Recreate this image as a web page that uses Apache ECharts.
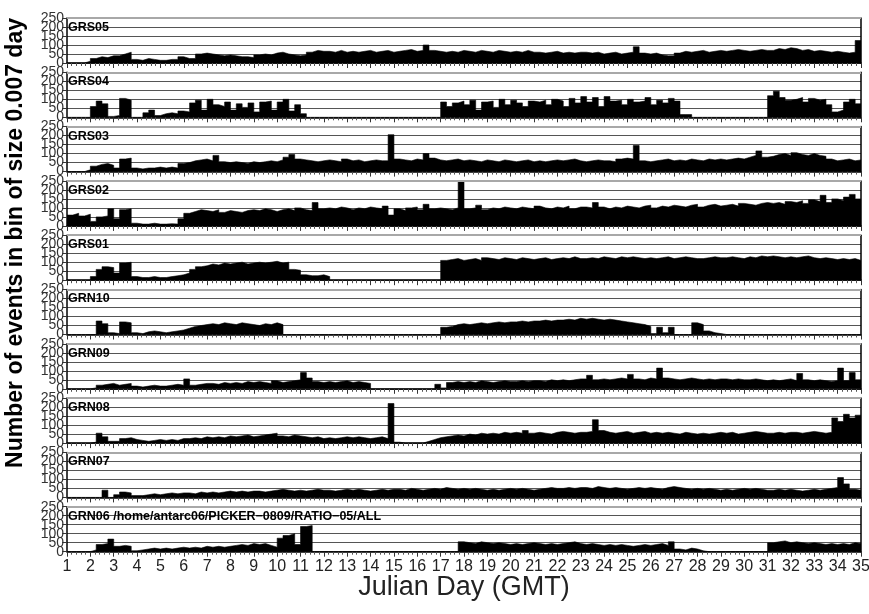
<!DOCTYPE html>
<html>
<head>
<meta charset="utf-8">
<script src="https://cdn.jsdelivr.net/npm/echarts@6/dist/echarts.min.js"></script>
<style>
html,body{margin:0;padding:0;background:#fff;}
#chart{width:869px;height:614px;}
</style>
</head>
<body>
<div id="chart"></div>
<script>
// Histogram values, one value per 0.25-day bin, starting at Julian day 1.00 (4 bins per row = 1 day)
const DAY_START = 1;
const BIN = 0.25;
const DAY_END = 35;
const Y_MAX = 250;
const panelNames = ['GRS05','GRS04','GRS03','GRS02','GRS01','GRN10','GRN09','GRN08','GRN07',
  'GRN06 /home/antarc06/PICKER\u22120809/RATIO\u221205/ALL'];

const GRS05 = [
 0,0,0,10,   25,35,30,40,   40,50,60,20,   15,25,20,15,   15,20,20,35,
 25,25,50,55, 50,45,40,45,  40,35,35,30,   45,50,45,55,   60,50,45,40,
 45,60,70,65, 65,60,70,60,  65,60,65,70,   60,65,70,60,   65,70,75,65,
 70,100,70,65, 60,65,60,70, 65,60,70,65,   60,70,65,60,   65,60,70,60,
 60,55,60,65, 55,60,55,60,  60,55,60,50,   55,60,50,55,   60,90,55,50,
 55,45,40,40, 55,65,60,65,  70,60,65,70,   65,70,75,70,   65,70,75,70,
 70,80,75,85, 80,70,75,65,  70,65,60,65,   60,55,60,125
];
const GRS04 = [
 0,0,0,0,     60,90,75,5,   10,105,95,0,   0,25,40,10,    20,25,20,35,
 30,80,95,40, 100,70,60,85, 40,75,55,80,   30,85,90,40,   85,100,35,70,
 20,0,0,0,    0,0,0,0,      0,0,0,0,       0,0,0,0,       0,0,0,0,
 0,0,0,0,     85,60,80,90,  70,95,40,85,   90,55,100,70,  95,80,60,90,
 85,95,70,100, 90,60,105,80, 115,85,110,60, 115,90,95,70, 100,85,90,110,
 70,95,80,105, 90,15,15,0,  0,0,0,0,       0,0,0,0,       0,0,0,0,
 120,145,110,95, 100,110,85,105, 95,100,70,30, 40,85,100,75
];
const GRS03 = [
 0,0,0,10,    30,40,45,35,  20,70,75,20,   15,20,20,25,   20,25,20,45,
 50,60,65,70, 60,90,55,50,  55,50,45,55,   50,55,60,55,   65,80,95,70,
 65,60,55,60, 65,60,55,70,  60,65,55,60,   65,60,60,205,  70,65,60,70,
 65,100,75,65, 60,65,70,60, 65,60,55,65,   60,55,65,60,   55,60,65,55,
 60,55,60,65, 60,65,70,60,  55,60,65,60,   60,55,70,75,   70,145,60,55,
 60,65,70,60, 65,60,70,65,  60,70,65,70,   65,70,75,70,   80,90,115,80,
 85,95,100,90, 105,95,90,100, 90,85,70,60, 65,70,60,65
];
const GRS02 = [
 60,70,55,65, 25,50,55,95,  40,90,95,15,   10,10,15,10,   10,12,10,40,
 70,80,90,85, 80,90,75,85,  80,75,85,90,   85,95,90,80,   90,95,85,100,
 90,85,130,95, 100,95,105,100, 90,100,95,105, 100,95,110,60, 95,85,100,105,
 90,120,95,100, 95,90,100,250, 95,100,115,90, 100,95,105,100, 95,105,100,95,
 110,100,95,105, 100,110,95,105, 105,100,130,105, 95,105,100,110, 105,100,110,115,
 100,110,105,115, 110,105,115,120, 105,115,120,110, 115,120,110,125, 120,115,125,130,
 125,130,120,135, 130,140,125,145, 135,170,130,150, 140,160,175,150
];
const GRS01 = [
 0,0,0,0,     20,60,75,70,  40,95,100,20,  15,15,20,15,   15,20,25,30,
 40,60,75,80, 90,85,95,90,  95,100,90,95,  100,95,100,105, 95,100,60,55,
 30,25,25,30, 20,0,0,0,     0,0,0,0,       0,0,0,0,       0,0,0,0,
 0,0,0,0,     110,115,120,110, 115,120,110,125, 120,115,125,120, 115,125,120,115,
 120,125,115,120, 125,120,130,120, 120,125,120,130, 125,120,130,125, 130,125,120,125,
 120,125,130,120, 125,130,125,120, 120,125,130,125, 125,130,125,120, 130,125,135,130,
 135,130,125,130, 125,130,135,125, 120,125,120,115, 120,115,120,110
];
const GRN10 = [
 0,0,0,0,     0,75,60,10,   5,70,65,10,    5,15,20,15,    10,15,20,25,
 35,45,50,55, 60,55,65,60,  55,65,60,55,   50,60,55,65,   55,0,0,0,
 0,0,0,0,     0,0,0,0,      0,0,0,0,       0,0,0,0,       0,0,0,0,
 0,0,0,0,     40,45,55,60,  55,60,65,60,   65,70,65,70,   70,75,70,75,
 75,80,75,80, 80,85,80,90,  85,90,85,80,   85,80,75,70,   65,60,55,45,
 5,40,10,40,  0,0,0,65,     55,20,10,5,    0,0,0,0,       0,0,0,0,
 0,0,0,0,     0,0,0,0,      0,0,0,0,       0,0,0,0
];
const GRN09 = [
 0,0,0,0,     5,20,25,30,   20,25,30,15,   10,15,20,15,   15,20,25,20,
 55,20,25,30, 30,25,35,30,  35,30,40,35,   40,35,30,45,   35,40,45,50,
 90,60,40,35, 40,35,40,45,  35,40,35,30,   0,0,0,0,       0,0,0,0,
 0,0,0,25,    5,35,40,35,   40,35,45,40,   35,40,45,40,   40,45,40,45,
 45,40,50,45, 50,45,50,55,  55,75,50,55,   50,55,60,55,   80,55,50,60,
 55,115,60,55, 50,55,60,55, 50,55,50,55,   55,50,55,50,   50,55,50,45,
 50,45,50,55, 45,85,50,45,  50,45,40,45,   115,45,90,50
];
const GRN08 = [
 0,0,0,0,     5,55,35,10,   10,25,30,20,   15,10,15,20,   15,20,15,25,
 25,30,25,35, 30,35,30,40,  35,40,45,35,   40,45,50,55,   40,35,45,40,
 35,30,35,25, 30,25,30,35,  30,35,30,25,   30,35,25,220,  5,0,0,0,
 0,10,20,30,  35,40,45,40,  50,45,55,50,   55,50,60,55,   60,55,70,55,
 60,55,50,60, 65,60,55,60,  60,65,130,70,  60,55,60,65,   55,60,65,55,
 60,55,60,55, 50,60,55,50,  55,50,55,60,   55,60,50,55,   60,65,60,55,
 55,60,55,60, 60,55,60,65,  60,55,60,140,  120,160,140,155
];
const GRN07 = [
 0,0,0,0,     0,0,40,0,     15,30,25,10,   10,15,20,15,   20,25,20,25,
 25,20,30,25, 30,25,30,35,  30,35,30,35,   35,30,35,40,   45,40,35,40,
 35,40,45,40, 40,35,40,45,  40,45,40,35,   40,45,40,45,   45,40,50,45,
 40,45,50,45, 55,50,45,50,  45,50,45,40,   45,40,45,50,   45,50,45,40,
 45,50,55,50, 50,55,50,55,  55,50,60,55,   50,55,50,45,   50,55,50,55,
 50,45,55,60, 55,50,45,50,  45,50,45,40,   45,40,45,50,   45,50,45,40,
 40,45,40,45, 40,35,40,45,  40,45,50,55,   110,75,45,40
];
const GRN06 = [
 0,0,0,0,     10,40,45,70,  30,35,30,5,    10,15,20,15,   20,15,20,25,
 20,25,20,30, 25,30,25,30,  35,40,35,45,   40,45,35,25,   75,90,100,40,
 140,145,0,0, 0,0,0,0,      0,0,0,0,       0,0,0,0,       0,0,0,0,
 0,0,0,0,     0,0,0,55,     50,45,55,50,   45,50,45,40,   45,40,45,50,
 45,40,45,40, 45,50,55,45,  40,45,40,35,   40,35,40,35,   30,35,40,35,
 40,45,35,55, 15,10,20,15,  5,0,0,0,       0,0,0,0,       0,0,0,0,
 50,55,60,50, 55,50,45,50,  45,40,45,40,   45,40,50,45
];
const panelValues = [GRS05, GRS04, GRS03, GRS02, GRS01, GRN10, GRN09, GRN08, GRN07, GRN06];

function toPairs(arr) {
  const pts = arr.map((v, i) => [DAY_START + i * BIN, v]);
  pts.push([DAY_START + arr.length * BIN, arr[arr.length - 1]]);
  return pts;
}

const N = panelValues.length;
const TOP0 = 18, PITCH = 54.3, PH = 45, LEFT = 67, RIGHT = 8;
const grids = [], xAxes = [], yAxes = [], series = [], titles = [];
const labelStyle = { fontSize: 14, color: '#333', fontFamily: 'Liberation Sans', margin: 3,
  showMinLabel: true, showMaxLabel: true, hideOverlap: false };
for (let i = 0; i < N; i++) {
  const top = TOP0 + i * PITCH;
  const last = i === N - 1;
  grids.push({ left: LEFT, right: RIGHT, top: top, height: PH, containLabel: false, outerBoundsMode: 'none' });
  xAxes.push({
    type: 'value', gridIndex: i, min: DAY_START, max: DAY_END, interval: 1,
    axisLine: { show: true, onZero: false, lineStyle: { color: '#000', width: 1.5 } },
    axisTick: { show: true, length: 5, lineStyle: { color: '#333' } },
    minorTick: { show: true, splitNumber: 5, length: 3, lineStyle: { color: '#555' } },
    splitLine: { show: false },
    axisLabel: { show: last, fontSize: 16, color: '#222', margin: 7, fontFamily: 'Liberation Sans',
      showMinLabel: true, showMaxLabel: true }
  });
  // main left axis: shows labels 0, 100, 200
  yAxes.push({
    type: 'value', gridIndex: i, min: 0, max: Y_MAX, interval: 50,
    axisLine: { show: true, lineStyle: { color: '#000', width: 1.5 } },
    axisTick: { show: true, length: 5, lineStyle: { color: '#333' } },
    axisLabel: Object.assign({}, labelStyle, { formatter: v => (v % 100 === 0 ? String(v) : '') }),
    splitLine: { show: true, showMaxLine: false, lineStyle: { color: '#555', width: 1 } }
  });
  series.push({
    type: 'line', xAxisIndex: i, yAxisIndex: i, step: 'end', showSymbol: false,
    data: toPairs(panelValues[i]),
    lineStyle: { color: '#000', width: 0.6 },
    areaStyle: { color: '#000', opacity: 1 },
    animation: false, silent: true, z: 3,
    markLine: {
      silent: true, symbol: 'none', label: { show: false }, animation: false,
      lineStyle: { color: '#a8a8a8', width: 2, type: 'solid' },
      data: [{ yAxis: Y_MAX }]
    }
  });
  titles.push({
    text: panelNames[i], left: LEFT + 1, top: top + 3, padding: 0,
    textStyle: { fontSize: 12.5, fontWeight: 'bold', color: '#000', fontFamily: 'Liberation Sans' }
  });
}
for (let i = 0; i < N; i++) {
  yAxes.push({
    type: 'value', gridIndex: i, min: 0, max: Y_MAX, position: 'right',
    axisLine: { show: true, lineStyle: { color: '#000', width: 1.5 } },
    axisTick: { show: false }, axisLabel: { show: false }, splitLine: { show: false }
  });
}
for (let i = 0; i < N; i++) {
  // companion left axis: shows labels 50, 150, 250
  yAxes.push({
    type: 'value', gridIndex: i, min: 0, max: Y_MAX, interval: 50, position: 'left', offset: 0,
    axisLine: { show: false }, axisTick: { show: false }, splitLine: { show: false },
    axisLabel: Object.assign({}, labelStyle, { formatter: v => (v % 100 === 50 ? String(v) : '') })
  });
}

const chart = echarts.init(document.getElementById('chart'), null, { renderer: 'canvas' });
chart.setOption({
  backgroundColor: '#fff',
  animation: false,
  title: titles,
  grid: grids,
  xAxis: xAxes,
  yAxis: yAxes,
  series: series,
  graphic: [
    {
      type: 'text', left: 4, top: 18, rotation: Math.PI / 2,
      style: { text: 'Number of events in bin of size 0.007 day', fontSize: 23, fontWeight: 'bold',
        fill: '#000', fontFamily: 'Liberation Sans' }
    },
    {
      type: 'text', x: 464, y: 574,
      style: { text: 'Julian Day (GMT)', fontSize: 27, fill: '#222', fontFamily: 'Liberation Sans',
        align: 'center', verticalAlign: 'top' }
    }
  ]
});
</script>
</body>
</html>
